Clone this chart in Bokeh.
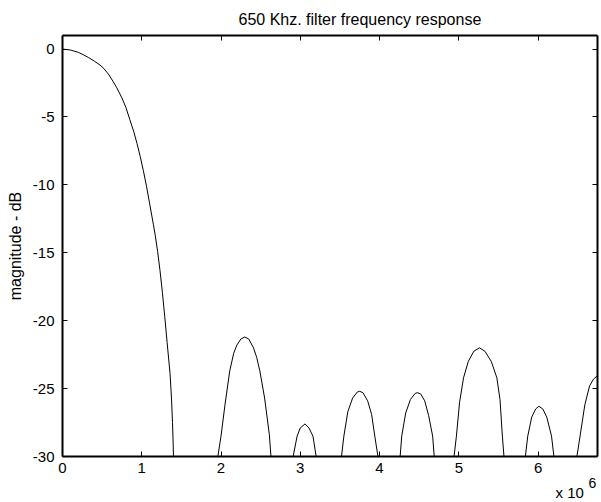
from bokeh.plotting import figure
from bokeh.models import Range1d, LinearAxis, FixedTicker, Title
from bokeh.embed import file_html
from bokeh.resources import INLINE

title_text = "650 Khz. filter frequency response"
ylabel_text = "magnitude - dB"
x_tick_mhz = [0, 1, 2, 3, 4, 5, 6]
y_ticks_db = [-30, -25, -20, -15, -10, -5, 0]
x_max_mhz = 6.75
y_min_db, y_max_db = -30, 1
x_scale_text = "x 10"
x_scale_exp = "6"

# Main lobe (frequency in MHz, magnitude in dB)
main_f = [0.00, 0.10, 0.20, 0.264, 0.33, 0.40, 0.474, 0.52, 0.58, 0.64, 0.685, 0.75,
          0.80, 0.85, 0.90, 0.94, 0.98, 1.02, 1.06, 1.10, 1.146, 1.17, 1.20, 1.23,
          1.26, 1.29, 1.32, 1.357, 1.375, 1.388, 1.396, 1.40]
main_db = [0.0, -0.07, -0.24, -0.42, -0.63, -0.88, -1.18, -1.42, -1.85, -2.4, -2.85, -3.6,
           -4.3, -5.2, -6.1, -6.95, -7.9, -8.95, -10.1, -11.4, -12.9, -13.7, -14.9, -16.3,
           -17.9, -19.7, -21.6, -23.9, -25.7, -27.5, -29.0, -30.0]

lobe1_f = [1.96, 2.00, 2.05, 2.11, 2.16, 2.20, 2.25, 2.30, 2.35, 2.41, 2.45, 2.49, 2.55, 2.61, 2.63]
lobe1_db = [-30.0, -28.5, -26.2, -23.7, -22.4, -21.8, -21.35, -21.2, -21.35, -22.0, -22.7, -23.7, -25.7, -28.4, -30.0]

lobe2_f = [2.91, 2.96, 3.00, 3.06, 3.11, 3.16, 3.20]
lobe2_db = [-30.0, -28.5, -27.9, -27.6, -27.9, -28.5, -30.0]

lobe3_f = [3.52, 3.55, 3.60, 3.66, 3.72, 3.75, 3.79, 3.85, 3.90, 3.94, 3.98]
lobe3_db = [-30.0, -28.5, -26.7, -25.7, -25.25, -25.2, -25.3, -25.9, -26.9, -28.5, -30.0]

lobe4_f = [4.26, 4.28, 4.33, 4.39, 4.45, 4.48, 4.52, 4.57, 4.62, 4.67, 4.69]
lobe4_db = [-30.0, -28.5, -26.8, -25.8, -25.35, -25.3, -25.4, -25.9, -27.0, -28.5, -30.0]

lobe5_f = [4.94, 4.97, 5.01, 5.06, 5.12, 5.19, 5.26, 5.33, 5.41, 5.48, 5.52, 5.55, 5.57]
lobe5_db = [-30.0, -28.5, -26.0, -24.2, -23.0, -22.25, -22.0, -22.25, -23.0, -24.2, -25.8, -28.5, -30.0]

lobe6_f = [5.84, 5.87, 5.92, 5.97, 6.01, 6.06, 6.11, 6.17, 6.20]
lobe6_db = [-30.0, -28.5, -27.1, -26.5, -26.3, -26.5, -27.1, -28.5, -30.0]

lobe7_f = [6.49, 6.53, 6.59, 6.65, 6.70, 6.75]
lobe7_db = [-30.0, -28.5, -26.2, -24.8, -24.3, -24.05]

FONT = "Liberation Sans"
FS = "15px"

segments = [(main_f, main_db), (lobe1_f, lobe1_db), (lobe2_f, lobe2_db), (lobe3_f, lobe3_db),
            (lobe4_f, lobe4_db), (lobe5_f, lobe5_db), (lobe6_f, lobe6_db), (lobe7_f, lobe7_db)]

xs = []
ys = []
for f, d in segments:
    xs.append([v * 1e6 for v in f])
    ys.append(d)

p = figure(width=600, height=502, output_backend="svg", toolbar_location=None,
           x_range=Range1d(0, x_max_mhz * 1e6), y_range=Range1d(y_min_db, y_max_db),
           min_border_left=62, min_border_right=3, min_border_top=34, min_border_bottom=46,
           x_axis_location=None, y_axis_location=None)

p.multi_line(xs, ys, line_color="black", line_width=1)

p.grid.visible = False
p.outline_line_color = None
p.background_fill_color = "white"
p.border_fill_color = "white"

p.title.text = title_text
p.title.align = "left"
p.title.offset = 176
p.title.standoff = 16
p.title.text_font = FONT
p.title.text_font_size = "16px"
p.title.text_font_style = "normal"
p.title.text_color = "black"

xt = FixedTicker(ticks=[t * 1e6 for t in x_tick_mhz], minor_ticks=[])
yt = FixedTicker(ticks=y_ticks_db, minor_ticks=[])


def style(ax):
    ax.axis_line_color = "black"
    ax.axis_line_width = 2
    ax.major_tick_line_color = "black"
    ax.major_tick_line_width = 1
    ax.major_tick_in = 5
    ax.major_tick_out = 0
    ax.minor_tick_line_color = None
    ax.major_label_text_font = FONT
    ax.major_label_text_color = "black"
    ax.major_label_text_font_size = FS


xb = LinearAxis(ticker=xt, major_label_overrides={int(t * 1e6): str(t) for t in x_tick_mhz})
style(xb)
xb.major_label_standoff = 6
p.add_layout(xb, "below")

yl = LinearAxis(ticker=yt, axis_label=ylabel_text,
                major_label_overrides={t: str(t) for t in y_ticks_db})
style(yl)
yl.major_label_standoff = 8
yl.axis_label_text_font = FONT
yl.axis_label_text_font_size = "16px"
yl.axis_label_text_font_style = "normal"
yl.axis_label_text_color = "black"
yl.axis_label_standoff = 6
p.add_layout(yl, "left")

xtop = LinearAxis(ticker=xt, major_label_overrides={int(t * 1e6): "" for t in x_tick_mhz})
style(xtop)
xtop.major_label_standoff = 0
p.add_layout(xtop, "above")

yr = LinearAxis(ticker=yt, major_label_overrides={t: "" for t in y_ticks_db})
style(yr)
yr.major_label_standoff = 0
p.add_layout(yr, "right")

exp_title = Title(text=x_scale_exp, align="left", offset=526, standoff=0,
                  text_font=FONT, text_font_size="14px", text_font_style="normal",
                  text_color="black")
p.add_layout(exp_title, "below")
base_title = Title(text=x_scale_text, align="left", offset=493, standoff=-11,
                   text_font=FONT, text_font_size=FS, text_font_style="normal",
                   text_color="black")
p.add_layout(base_title, "below")

open("out.html", "w").write(file_html(p, INLINE))
